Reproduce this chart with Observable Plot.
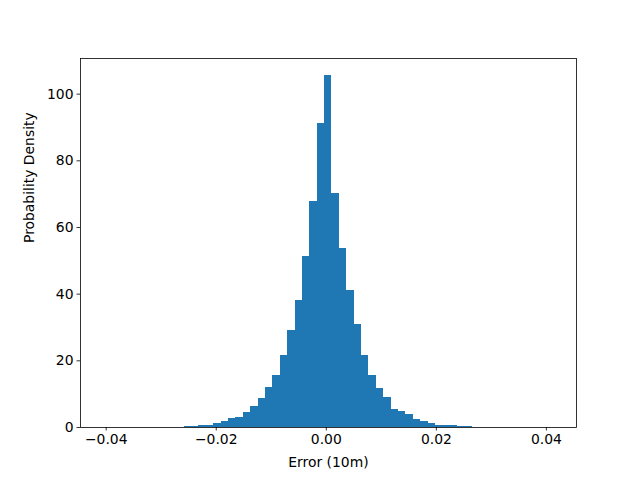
<!DOCTYPE html>
<html>
<head>
<meta charset="utf-8">
<script src="https://cdn.jsdelivr.net/npm/d3@7"></script>
<script src="https://cdn.jsdelivr.net/npm/@observablehq/plot@0.6"></script>
<style>
  html, body { margin: 0; padding: 0; background: #fff; }
</style>
</head>
<body>
<div id="chart"></div>
<script>
// Histogram parameters (61 equal bins)
const binStart = -0.04063;
const binWidth = 0.001344;
// Density per bin, left to right
const densities = [
  0.02, 0, 0, 0, 0, 0, 0, 0, 0, 0.05, 0.1,
  0.3, 0.4, 0.7, 0.7, 1.3, 1.9, 2.8, 3.1, 4.6, 6.4,
  8.8, 12.1, 15.7, 21.7, 29.2, 38.2, 51.4, 67.9, 91.3, 105.7,
  70.3, 53.8, 41.2, 31.0, 21.7, 15.7, 11.8, 9.1, 5.5, 4.9,
  4.0, 2.5, 1.9, 1.3, 0.7, 0.7, 0.7, 0.4, 0.3, 0.1,
  0, 0, 0, 0, 0, 0, 0, 0, 0, 0.02
];
const xTicks = [-0.04, -0.02, 0, 0.02, 0.04];
const yTicks = [0, 20, 40, 60, 80, 100];
const xLabel = "Error (10m)";
const yLabel = "Probability Density";

const bins = densities.map((d, i) => ({
  x1: binStart + i * binWidth,
  x2: binStart + (i + 1) * binWidth,
  y: d
}));

const font = "DejaVu Sans, sans-serif";
const fs = 13.9;

const chart = Plot.plot({
  width: 640,
  height: 480,
  marginLeft: 80,
  marginRight: 64,
  marginTop: 58,
  marginBottom: 53,
  style: { fontFamily: font, fontSize: fs + "px", background: "#fff", color: "#000" },
  x: { domain: [-0.04467, 0.04547] },
  y: { domain: [0, 110.7] },
  marks: [
    Plot.rectY(bins, { x1: "x1", x2: "x2", y1: 0, y2: "y", fill: "#1f77b4", inset: 0, shapeRendering: "crispEdges" }),
    Plot.frame({ stroke: "#000", strokeWidth: 0.8 }),
    Plot.axisX({ ticks: xTicks, tickFormat: d3.format(".2f"), tickSize: 3.5, tickPadding: 3.5, strokeWidth: 0.8, label: null, fontSize: fs }),
    Plot.axisY({ ticks: yTicks, tickFormat: d3.format("d"), tickSize: 3.5, tickPadding: 3.5, strokeWidth: 0.8, label: null, fontSize: fs }),
    Plot.text([xLabel], { text: d => d, frameAnchor: "bottom", dy: 35, lineAnchor: "middle", fontSize: fs, fill: "#000" }),
    Plot.text([yLabel], { text: d => d, frameAnchor: "left", dx: -51, rotate: -90, lineAnchor: "middle", fontSize: fs, fill: "#000" })
  ]
});
document.getElementById("chart").appendChild(chart);
</script>
</body>
</html>
